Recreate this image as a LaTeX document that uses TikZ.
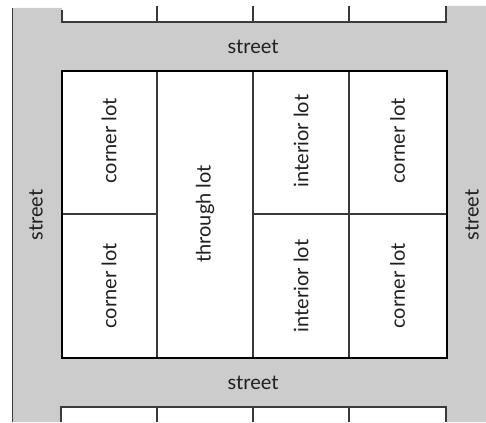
\documentclass[tikz,border=0pt]{standalone}
\usepackage{fontspec}
\setmainfont{Lato}
\definecolor{streetgray}{HTML}{CCCCCC}
\definecolor{linegray}{HTML}{3A3A3A}
\begin{document}
\begin{tikzpicture}[x=1pt,y=-1pt,
  thinline/.style={draw=linegray,line width=1.3pt},
  blockline/.style={draw=black,line width=2.4pt},
  lotlabel/.style={rotate=90,font=\fontsize{20}{24}\selectfont,text=black!88},
  streetlabel/.style={font=\fontsize{20}{24}\selectfont,text=black!88}]
\useasboundingbox (0,0) rectangle (486,422);
% street fill
\fill[streetgray] (12.5,8) -- (62,8) -- (62,22) -- (446,22) -- (446,6) -- (486,6) -- (486,422) -- (12.5,422) -- cycle;
\fill[white] (61,70) rectangle (446,357);
\fill[white] (61,407) rectangle (446,422);
% coordinates
\coordinate (L0) at (12.5,8);
\coordinate (L1) at (12.5,422);
\draw[thinline] (L0) -- (L1);
% top lots
\coordinate (ta) at (62,10);
\coordinate (tb) at (62,22);
\coordinate (tc) at (446,22);
\coordinate (td) at (446,6);
\draw[thinline] (ta) -- (tb) -- (tc) -- (td);
\foreach \x/\n in {157/1,253/2,349/3}{
  \coordinate (tt\n) at (\x,6);
  \coordinate (tu\n) at (\x,22);
  \draw[thinline] (tt\n) -- (tu\n);
}
% bottom lots
\coordinate (ba) at (61,422);
\coordinate (bb) at (61,407);
\coordinate (bc) at (446,407);
\coordinate (bd) at (446,422);
\draw[thinline] (ba) -- (bb) -- (bc) -- (bd);
\foreach \x/\n in {157/1,253/2,349/3}{
  \coordinate (bt\n) at (\x,407);
  \coordinate (bu\n) at (\x,422);
  \draw[thinline] (bt\n) -- (bu\n);
}
% main block internal lines
\foreach \x/\n in {157/1,253/2,349/3}{
  \coordinate (mt\n) at (\x,70);
  \coordinate (mb\n) at (\x,357);
  \draw[thinline] (mt\n) -- (mb\n);
}
\coordinate (h1) at (61,214);
\coordinate (h2) at (157,214);
\coordinate (h3) at (253,214);
\coordinate (h4) at (446,214);
\draw[thinline] (h1) -- (h2);
\draw[thinline] (h3) -- (h4);
\node[blockline,minimum width=385pt,minimum height=287pt,inner sep=0pt,anchor=north west] (block) at (61,70) {};
% labels
\node[lotlabel] (c1) at (109,141) {corner lot};
\node[lotlabel] (c2) at (109,286) {corner lot};
\node[lotlabel] (th) at (205,214) {through lot};
\node[lotlabel] (i1) at (301,141) {interior lot};
\node[lotlabel] (i2) at (301,286) {interior lot};
\node[lotlabel] (c3) at (397.5,141) {corner lot};
\node[lotlabel] (c4) at (397.5,286) {corner lot};
\node[streetlabel] (st) at (253,47) {street};
\node[streetlabel] (sb) at (253,383) {street};
\node[streetlabel,rotate=90] (sl) at (36,215) {street};
\node[streetlabel,rotate=90] (sr) at (472,215) {street};
\end{tikzpicture}
\end{document}
